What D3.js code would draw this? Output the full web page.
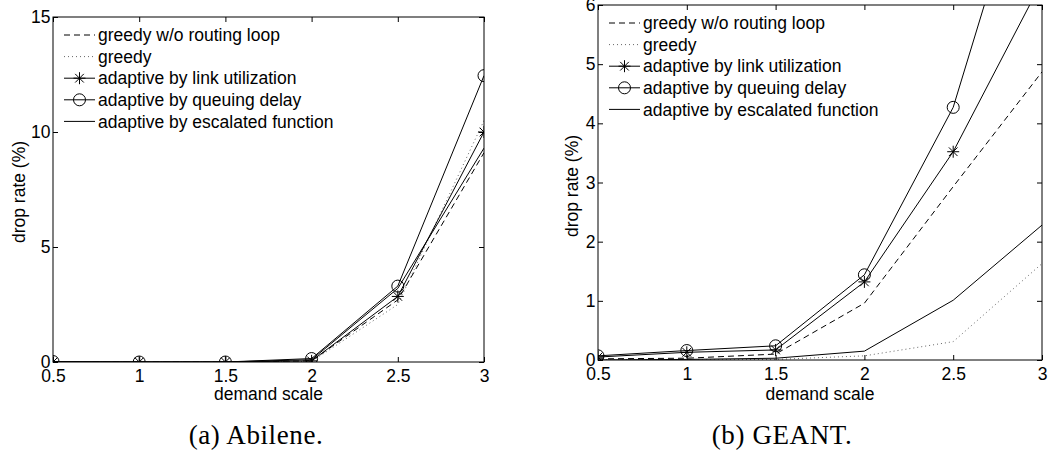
<!DOCTYPE html>
<html>
<head>
<meta charset="utf-8">
<script src="https://cdn.jsdelivr.net/npm/d3@7"></script>
<style>
  body { margin: 0; background: #fff; }
  text { font-family: "Liberation Sans", Arial, sans-serif; }
</style>
</head>
<body>
<svg id="chart" width="1060" height="455"></svg>
<script>
const demandScale = [0.5, 1, 1.5, 2, 2.5, 3];
const xTickLabels = ["0.5", "1", "1.5", "2", "2.5", "3"];

const seriesNames = [
  "greedy w/o routing loop",
  "greedy",
  "adaptive by link utilization",
  "adaptive by queuing delay",
  "adaptive by escalated function"
];

// Abilene drop rate (%)
const abileneNoLoop    = [0, 0, 0, 0.05, 2.7, 9.1];
const abileneGreedy    = [0, 0, 0, 0.02, 2.5, 10.5];
const abileneLink      = [0, 0, 0, 0.05, 2.85, 10];
const abileneQueue     = [0.02, 0, 0, 0.15, 3.3, 12.45];
const abileneEscalated = [0, 0, 0, 0.1, 3.2, 9.3];
const abileneYTicks = [0, 5, 10, 15];

// GEANT drop rate (%)
const geantNoLoop    = [0.02, 0.03, 0.1, 0.96, 2.93, 4.87];
const geantGreedy    = [0, 0, 0.01, 0.07, 0.31, 1.63];
const geantLink      = [0.05, 0.13, 0.17, 1.32, 3.52, 6.4];
const geantQueue     = [0.07, 0.16, 0.24, 1.44, 4.27, 9.2];
const geantEscalated = [0, 0.01, 0.03, 0.15, 1.01, 2.28];
const geantYTicks = [0, 1, 2, 3, 4, 5, 6];

const styles = [
  { dash: "6,4", color: "#000", marker: null },
  { dash: "1,3", color: "#666", marker: null },
  { dash: null, color: "#000", marker: "star" },
  { dash: null, color: "#000", marker: "circle" },
  { dash: null, color: "#000", marker: null }
];

const fontSize = "17.5px";
const svg = d3.select("#chart");

function drawMarker(g, kind, x, y) {
  if (kind === "circle") {
    g.append("circle").attr("cx", x).attr("cy", y).attr("r", 6)
      .attr("fill", "none").attr("stroke", "#000").attr("stroke-width", 1);
  } else if (kind === "star") {
    const r = 6, d = r * 0.72;
    const p = `M${x - r},${y}L${x + r},${y}M${x},${y - r}L${x},${y + r}` +
      `M${x - d},${y - d}L${x + d},${y + d}M${x - d},${y + d}L${x + d},${y - d}`;
    g.append("path").attr("d", p).attr("stroke", "#000").attr("stroke-width", 1);
  }
}

function drawPanel(opt) {
  const { left, right, top, bottom, yMax, yTicks, data, id, legendTop, legendX } = opt;
  const g = svg.append("g");

  const x = d3.scaleLinear().domain([0.5, 3]).range([left, right]);
  const y = d3.scaleLinear().domain([0, yMax]).range([bottom, top]);

  g.append("clipPath").attr("id", id).append("rect")
    .attr("x", left).attr("y", top).attr("width", right - left).attr("height", bottom - top);

  // matlab style: ticks pointing inward on all four sides
  const tl = 5;
  g.append("g").attr("transform", `translate(0,${bottom})`)
    .call(d3.axisBottom(x).tickValues(demandScale).tickFormat((d, i) => xTickLabels[i]).tickSizeInner(-tl).tickSizeOuter(0).tickPadding(8))
    .call(a => a.select(".domain").remove());
  g.append("g").attr("transform", `translate(0,${top})`)
    .call(d3.axisTop(x).tickValues(demandScale).tickFormat("").tickSizeInner(-tl).tickSizeOuter(0))
    .call(a => a.select(".domain").remove());
  g.append("g").attr("transform", `translate(${left},0)`)
    .call(d3.axisLeft(y).tickValues(yTicks).tickFormat(d3.format("d")).tickSizeInner(-tl).tickSizeOuter(0).tickPadding(2.5))
    .call(a => a.select(".domain").remove());
  g.append("g").attr("transform", `translate(${right},0)`)
    .call(d3.axisRight(y).tickValues(yTicks).tickFormat("").tickSizeInner(-tl).tickSizeOuter(0))
    .call(a => a.select(".domain").remove());

  g.selectAll(".tick line").attr("stroke", "#000");
  g.selectAll(".tick text").attr("fill", "#000").style("font-size", fontSize)
    .style("font-family", '"Liberation Sans", Arial, sans-serif');

  const line = d3.line().x((d, i) => x(demandScale[i])).y(d => y(d));
  const plot = g.append("g").attr("clip-path", `url(#${id})`);

  data.forEach((vals, k) => {
    const s = styles[k];
    plot.append("path").datum(vals).attr("d", line)
      .attr("fill", "none").attr("stroke", s.color).attr("stroke-width", 1)
      .attr("stroke-dasharray", s.dash);
    if (s.marker) {
      vals.forEach((v, i) => {
        if (v <= yMax) drawMarker(plot, s.marker, x(demandScale[i]), y(v));
      });
    }
  });

  g.append("rect").attr("x", left).attr("y", top)
    .attr("width", right - left).attr("height", bottom - top)
    .attr("fill", "none").attr("stroke", "#000").attr("stroke-width", 1);

  // axis titles
  g.append("text").attr("x", (left + right) / 2).attr("y", 400)
    .attr("text-anchor", "middle").style("font-size", fontSize).text("demand scale");
  g.append("text")
    .attr("transform", `translate(${opt.yLabelX},${opt.yLabelY}) rotate(-90)`)
    .attr("text-anchor", "middle").style("font-size", fontSize).text("drop rate (%)");

  // legend (no box)
  seriesNames.forEach((name, k) => {
    const s = styles[k];
    const ly = legendTop + k * 21.6;
    g.append("line").attr("x1", legendX).attr("x2", legendX + 31).attr("y1", ly).attr("y2", ly)
      .attr("stroke", s.color).attr("stroke-width", 1).attr("stroke-dasharray", s.dash);
    if (s.marker) drawMarker(g, s.marker, legendX + 15.5, ly);
    g.append("text").attr("x", legendX + 34).attr("y", ly).attr("dy", "0.35em")
      .style("font-size", fontSize).text(name);
  });

  // caption
  g.append("text").attr("x", opt.captionX).attr("y", 444)
    .attr("text-anchor", "middle")
    .style("font-family", '"Liberation Serif", "DejaVu Serif", serif')
    .style("font-size", "27px").style("letter-spacing", "0.6px").text(opt.caption);
}

drawPanel({
  id: "clipA", left: 53, right: 484, top: 17, bottom: 362, yMax: 15, yTicks: abileneYTicks,
  data: [abileneNoLoop, abileneGreedy, abileneLink, abileneQueue, abileneEscalated],
  legendTop: 35, legendX: 64, yLabelX: 25, yLabelY: 192, caption: "(a) Abilene.", captionX: 256
});

drawPanel({
  id: "clipB", left: 598, right: 1042, top: 5, bottom: 360, yMax: 6, yTicks: geantYTicks,
  data: [geantNoLoop, geantGreedy, geantLink, geantQueue, geantEscalated],
  legendTop: 23, legendX: 609, yLabelX: 578, yLabelY: 186, caption: "(b) GEANT.", captionX: 782
});
</script>
</body>
</html>
